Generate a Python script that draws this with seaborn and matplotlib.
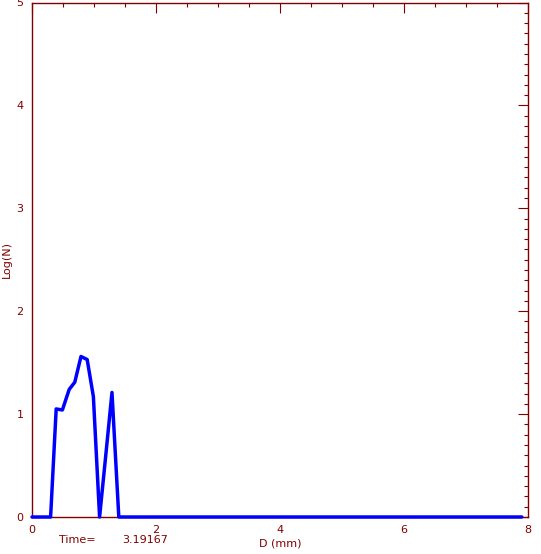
import seaborn as sns
import matplotlib.pyplot as plt
from matplotlib.ticker import MultipleLocator

# size distribution
diameter = [0.0, 0.30, 0.39, 0.49, 0.60, 0.69, 0.79, 0.89, 0.99, 1.09, 1.19, 1.29, 1.40, 7.9]
log_n = [0.0, 0.0, 1.05, 1.04, 1.24, 1.31, 1.56, 1.53, 1.17, 0.0, 0.60, 1.21, 0.0, 0.0]
time_value = "3.19167"

axis_color = "#800000"

sns.set_style("white")
plt.rcParams["font.family"] = ["DejaVu Sans"]

fig = plt.figure(figsize=(5.41, 5.54), dpi=100)
ax = fig.add_axes([32 / 541, 37 / 554, 496 / 541, 514.5 / 554])

sns.lineplot(x=diameter, y=log_n, ax=ax, color="#0000ff", lw=2.5,
             estimator=None, sort=False, clip_on=False, zorder=5)

ax.set_xlim(0, 8)
ax.set_ylim(0, 5)
ax.xaxis.set_major_locator(MultipleLocator(2))
ax.xaxis.set_minor_locator(MultipleLocator(0.5))
ax.yaxis.set_major_locator(MultipleLocator(1))
ax.yaxis.set_minor_locator(MultipleLocator(0.1))

for s in ax.spines.values():
    s.set_color(axis_color)
    s.set_linewidth(1.0)

ax.tick_params(which="both", direction="in", top=True, right=True,
               color=axis_color, labelcolor=axis_color, width=0.8, labelsize=8)
ax.tick_params(which="major", length=7.2, pad=6)
ax.tick_params(which="minor", length=2.9)

ax.set_xlabel("D (mm)", color=axis_color, fontsize=8, labelpad=2)
ax.set_ylabel("Log(N)", color=axis_color, fontsize=8)
ax.yaxis.set_label_coords(-20 / 496, 0.5)

fig.text(77 / 541, 1 - 540 / 554, "Time=", color=axis_color, fontsize=8,
         ha="center", va="center")
fig.text(145 / 541, 1 - 540 / 554, time_value, color=axis_color, fontsize=8,
         ha="center", va="center")

fig.savefig("out.png", dpi=100)
